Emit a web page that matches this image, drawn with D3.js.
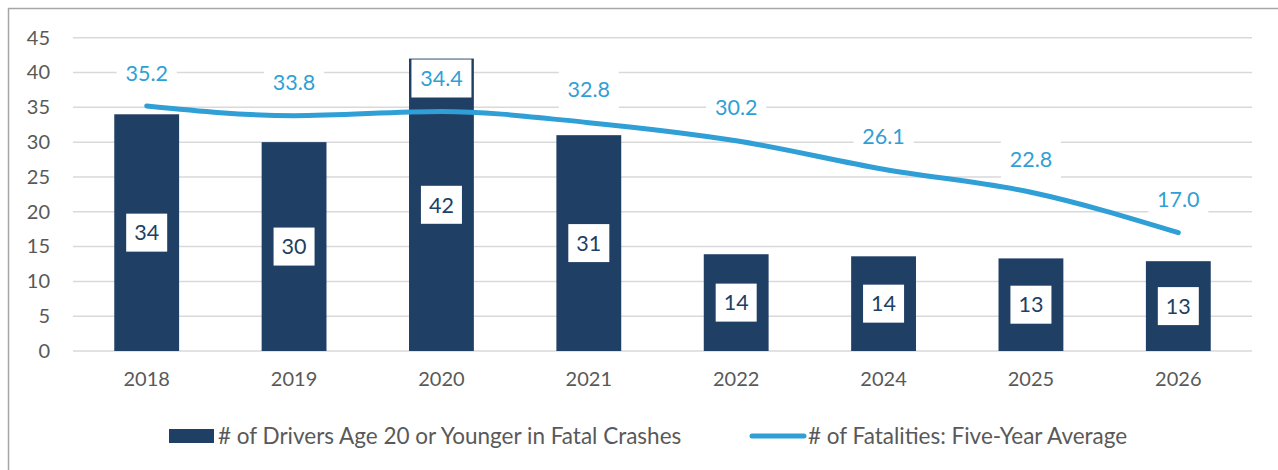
<!DOCTYPE html>
<html>
<head>
<meta charset="utf-8">
<script src="https://cdn.jsdelivr.net/npm/d3@7/dist/d3.min.js"></script>
<style>
  html, body { margin: 0; padding: 0; background: #fff; }
  svg { display: block; font-family: Lato, "Open Sans", sans-serif; }
</style>
</head>
<body>
<svg id="chart" width="1278" height="470"></svg>
<script>
// Years shown on the x axis
const years = ["2018", "2019", "2020", "2021", "2022", "2024", "2025", "2026"];
// Drivers age 20 or younger involved in fatal crashes
const youngDrivers = [34, 30, 42, 31, 13.9, 13.6, 13.3, 12.9];
// Fatalities, five-year rolling average
const fiveYearAvg = [35.2, 33.8, 34.4, 32.8, 30.2, 26.1, 22.8, 17.0];
// Y-axis ticks
const yTicks = [0, 5, 10, 15, 20, 25, 30, 35, 40, 45];
const legendLabels = ["# of Drivers Age 20 or Younger in Fatal Crashes", "# of Fatalities: Five-Year Average"];

const barColor = "#203f64";
const lineColor = "#2f9fd6";
const textGray = "#595959";

const svg = d3.select("#chart");
const W = 1278, H = 470;

// Outer frame (open to the right and bottom)
svg.append("path")
  .attr("d", `M8.5,${H} V8.5 H${W}`)
  .attr("fill", "none")
  .attr("stroke", "#a6a6a6")
  .attr("stroke-width", 1.5);

const plot = { left: 73, right: 1252, top: 37.7, bottom: 351 };

const x = d3.scaleBand().domain(years).range([plot.left, plot.right]).paddingInner(0.56).paddingOuter(0.28);
const y = d3.scaleLinear().domain([0, 45]).range([plot.bottom, plot.top]);

// Gridlines
svg.append("g").selectAll("line").data(yTicks).join("line")
  .attr("x1", plot.left).attr("x2", plot.right)
  .attr("y1", d => y(d)).attr("y2", d => y(d))
  .attr("stroke", "#d9d9d9").attr("stroke-width", 1.5);

// Y axis labels
const yAxis = d3.axisLeft(y).tickValues(yTicks).tickSize(0).tickPadding(0);
const yg = svg.append("g").attr("transform", "translate(50,0)").call(yAxis);
yg.select(".domain").remove();
yg.selectAll("text").attr("fill", textGray).style("font-size", "20px").style("font-family", "Lato, sans-serif");

// X axis labels
const xAxis = d3.axisBottom(x).tickSize(0).tickPadding(0);
const xg = svg.append("g").attr("transform", `translate(0,${plot.bottom + 21})`).call(xAxis);
xg.select(".domain").remove();
xg.selectAll("text").attr("fill", textGray).style("font-size", "20px").style("font-family", "Lato, sans-serif");

// Bars
svg.append("g").selectAll("rect").data(youngDrivers).join("rect")
  .attr("x", (d, i) => x(years[i]))
  .attr("width", x.bandwidth())
  .attr("y", d => y(d))
  .attr("height", d => y(0) - y(d))
  .attr("fill", barColor);

// Bar value labels in white boxes
const fmtInt = d3.format(".0f");
const barLbl = svg.append("g").selectAll("g").data(youngDrivers).join("g")
  .attr("transform", (d, i) => `translate(${x(years[i]) + x.bandwidth() / 2},${y(d / 2)})`);
barLbl.append("rect").attr("x", -20.5).attr("y", -19).attr("width", 41).attr("height", 38).attr("fill", "#fff");
barLbl.append("text").attr("text-anchor", "middle").attr("dy", "0.36em")
  .attr("fill", barColor).style("font-size", "21.5px").text(d => fmtInt(d));

// Five-year average line
const cx = i => x(years[i]) + x.bandwidth() / 2;
const line = d3.line().x((d, i) => cx(i)).y(d => y(d)).curve(d3.curveMonotoneX);
svg.append("path").datum(fiveYearAvg)
  .attr("d", line)
  .attr("fill", "none")
  .attr("stroke", lineColor)
  .attr("stroke-width", 5)
  .attr("stroke-linecap", "round")
  .attr("stroke-linejoin", "round");

// Line value labels above the points
const fmt1 = d3.format(".1f");
const lineLbl = svg.append("g").selectAll("g").data(fiveYearAvg).join("g")
  .attr("transform", (d, i) => `translate(${cx(i)},${y(d) - 33})`);
lineLbl.append("rect").attr("x", -30).attr("y", -19).attr("width", 60).attr("height", 38).attr("fill", "#fff");
lineLbl.append("text").attr("text-anchor", "middle").attr("dy", "0.36em")
  .attr("fill", lineColor).style("font-size", "21.5px").text(d => fmt1(d));

// Legend
const leg = svg.append("g");
leg.append("rect").attr("x", 169).attr("y", 429).attr("width", 45).attr("height", 14).attr("fill", barColor);
leg.append("text").attr("x", 218).attr("y", 436).attr("dy", "0.36em")
  .attr("fill", textGray).style("font-size", "22.5px").text(legendLabels[0]);
leg.append("line").attr("x1", 752).attr("x2", 804).attr("y1", 436).attr("y2", 436)
  .attr("stroke", lineColor).attr("stroke-width", 5).attr("stroke-linecap", "round");
leg.append("text").attr("x", 808).attr("y", 436).attr("dy", "0.36em")
  .attr("fill", textGray).style("font-size", "22.5px").text(legendLabels[1]);
</script>
</body>
</html>
